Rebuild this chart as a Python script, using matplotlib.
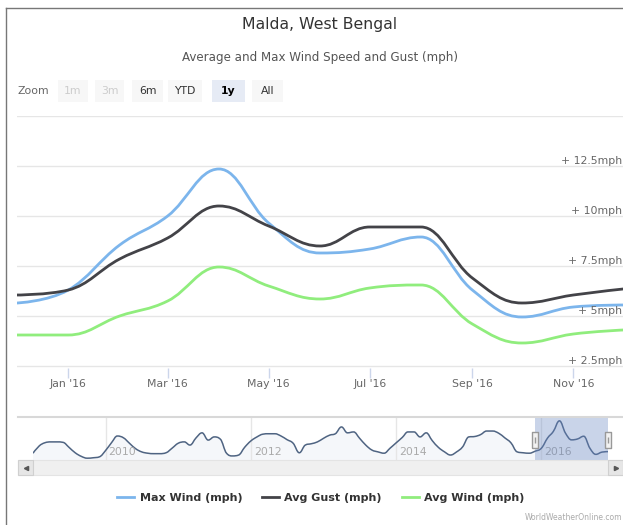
import numpy as np
import pandas as pd
import matplotlib
matplotlib.use("Agg")
import matplotlib.pyplot as plt
import matplotlib.dates as mdates
import matplotlib.transforms as mtransforms
from matplotlib.path import Path
from matplotlib.patches import PathPatch, Rectangle
from matplotlib.lines import Line2D

# monthly values for the 1y view (Dec 2015 - Dec 2016)
months = pd.date_range("2015-12-01", periods=13, freq="MS")
max_wind = [5.65, 6.3, 8.55, 10.0, 12.35, 9.65, 8.15, 8.35, 8.95, 6.3, 4.95, 5.45, 5.55]
avg_gust = [6.05, 6.3, 7.85, 8.9, 10.5, 9.5, 8.5, 9.45, 9.45, 6.9, 5.65, 6.05, 6.35]
avg_wind = [4.05, 4.05, 5.0, 5.75, 7.45, 6.5, 5.85, 6.4, 6.55, 4.6, 3.65, 4.1, 4.3]
series_names = ["Max Wind (mph)", "Avg Gust (mph)", "Avg Wind (mph)"]
series_colors = ["#7cb5ec", "#434348", "#90ed7d"]

# navigator history (Max Wind), Jan 2009 - Nov 2015
nav_hist = [5.2, 6.8, 7.5, 7.7, 7.7, 7.6, 6.5, 5.3, 4.5, 4.1, 4.2, 4.4,
            5.8, 7.6, 9.0, 8.6, 7.4, 6.2, 5.5, 5.2, 5.1, 5.1, 5.3, 6.3,
            7.4, 7.7, 7.0, 8.6, 9.7, 8.1, 8.8, 8.3, 5.2, 4.6, 4.8, 6.5,
            7.9, 8.8, 9.4, 9.5, 9.5, 9.0, 8.2, 7.4, 5.3, 7.0, 7.3, 7.7,
            8.5, 9.2, 9.5, 11.0, 9.7, 9.9, 8.5, 7.0, 5.9, 5.5, 5.2, 6.3,
            7.5, 8.7, 9.9, 9.9, 8.8, 9.7, 8.0, 6.5, 5.5, 4.8, 5.5, 6.6,
            8.8, 8.9, 9.3, 10.1, 10.1, 9.6, 8.6, 7.5, 5.5, 5.3, 5.2]
nav_months = pd.date_range("2009-01-01", periods=len(nav_hist) + len(max_wind), freq="MS")
nav_values = nav_hist + max_wind
nav_years = [2010, 2012, 2014, 2016]

y_ticks = [2.5, 5, 7.5, 10, 12.5, 15]
zoom_buttons = ["1m", "3m", "6m", "YTD", "1y", "All"]

W, H = 623, 525


def fx(x):
    return x / W


def fy(y):
    return 1 - y / H


def spline_path(xs, ys, smoothing=1.5):
    # highcharts style spline through the points
    xs = list(xs)
    ys = list(ys)
    n = len(xs)
    denom = smoothing + 1
    lc = [(xs[i], ys[i]) for i in range(n)]
    rc = [(xs[i], ys[i]) for i in range(n)]
    for i in range(1, n - 1):
        px, py = xs[i], ys[i]
        lx, ly = xs[i - 1], ys[i - 1]
        nx, ny = xs[i + 1], ys[i + 1]
        lcx = (smoothing * px + lx) / denom
        lcy = (smoothing * py + ly) / denom
        rcx = (smoothing * px + nx) / denom
        rcy = (smoothing * py + ny) / denom
        corr = (rcy - lcy) * (rcx - px) / (rcx - lcx) + py - rcy
        lcy += corr
        rcy += corr
        if lcy > ly and lcy > py:
            lcy = max(ly, py)
            rcy = 2 * py - lcy
        elif lcy < ly and lcy < py:
            lcy = min(ly, py)
            rcy = 2 * py - lcy
        if rcy > ny and rcy > py:
            rcy = max(ny, py)
            lcy = 2 * py - rcy
        elif rcy < ny and rcy < py:
            rcy = min(ny, py)
            lcy = 2 * py - rcy
        lc[i] = (lcx, lcy)
        rc[i] = (rcx, rcy)
    verts = [(xs[0], ys[0])]
    codes = [Path.MOVETO]
    for i in range(1, n):
        verts += [rc[i - 1], lc[i], (xs[i], ys[i])]
        codes += [Path.CURVE4] * 3
    return verts, codes


plt.rcParams["font.family"] = ["DejaVu Sans"]
fig = plt.figure(figsize=(W / 100, H / 100), dpi=100)

# container border
fig.add_artist(Line2D([fx(6), fx(6)], [fy(8), 0], color="#777777", lw=1))
fig.add_artist(Line2D([fx(6), 1], [fy(8), fy(8)], color="#777777", lw=1))

fig.text(fx(320), fy(25), "Malda, West Bengal", ha="center", va="center",
         fontsize=11.3, color="#333333")
fig.text(fx(320), fy(57), "Average and Max Wind Speed and Gust (mph)", ha="center",
         va="center", fontsize=8.6, color="#555555")

# range selector buttons
fig.text(fx(17), fy(91), "Zoom", ha="left", va="center", fontsize=7.8, color="#666666")
btn_x = [58, 95, 132, 168, 212, 252]
btn_w = [30, 29, 31, 34, 33, 31]
for lab, bx, bw in zip(zoom_buttons, btn_x, btn_w):
    sel = lab == "1y"
    dis = lab in ("1m", "3m")
    fig.add_artist(Rectangle((fx(bx), fy(102)), fx(bw), fy(80) - fy(102),
                             transform=fig.transFigure,
                             facecolor="#e6ebf5" if sel else "#f7f7f7", edgecolor="none"))
    fig.text(fx(bx + bw / 2), fy(91), lab, ha="center", va="center", fontsize=7.8,
             color="#cccccc" if dis else ("#000000" if sel else "#333333"),
             fontweight="bold" if sel else "normal")

# main plot
ax = fig.add_axes([fx(17), fy(368), fx(623) - fx(17), fy(116) - fy(368)])
ax.xaxis_date()
xnum = mdates.date2num(months)
ax.set_xlim(xnum[0], xnum[-1])
ax.set_ylim(2.4, 15)
for vals, col in zip([max_wind, avg_gust, avg_wind], series_colors):
    v, c = spline_path(xnum, vals)
    ax.add_patch(PathPatch(Path(v, c), fill=False, edgecolor=col, lw=2,
                           capstyle="round", joinstyle="round", zorder=3))
ax.set_yticks(y_ticks)
ax.yaxis.grid(True, color="#e6e6e6", lw=1)
ax.tick_params(axis="y", length=0, labelleft=False)
for s in ax.spines.values():
    s.set_visible(False)
ax.xaxis.set_major_locator(mdates.MonthLocator(bymonth=[1, 3, 5, 7, 9, 11]))
ax.xaxis.set_major_formatter(mdates.DateFormatter("%b '%y"))
ax.tick_params(axis="x", length=7, width=1, color="#ccd6eb", labelsize=7.8,
               labelcolor="#666666", pad=1)
lab_tr = mtransforms.offset_copy(ax.get_yaxis_transform(), fig=fig, x=-1, y=5, units="dots")
for t in y_ticks[:-1]:
    ax.text(1.0, t, "+ %gmph" % t, transform=lab_tr, ha="right", va="center",
            fontsize=7.8, color="#666666", clip_on=False)

# navigator
axn = fig.add_axes([fx(33), fy(460), fx(608) - fx(33), fy(417) - fy(460)])
axn.xaxis_date()
nx = mdates.date2num(nav_months)
axn.set_xlim(mdates.date2num(pd.Timestamp("2009-01-01")), nx[-1])
axn.set_ylim(3.7, 13.2)
axn.set_yticks([])
year_x = mdates.date2num([pd.Timestamp("%d-01-01" % y) for y in nav_years])
axn.set_xticks(year_x)
axn.tick_params(axis="x", length=0, labelbottom=False)
axn.xaxis.grid(True, color="#e6e6e6", lw=1)
for s in axn.spines.values():
    s.set_visible(False)
v, c = spline_path(nx, nav_values)
fill_v = v + [(nx[-1], 3.7), (nx[0], 3.7), v[0]]
fill_c = c + [Path.LINETO, Path.LINETO, Path.CLOSEPOLY]
axn.add_patch(PathPatch(Path(fill_v, fill_c), facecolor="#4572a7", alpha=0.05,
                        edgecolor="none"))
axn.add_patch(PathPatch(Path(v, c), fill=False, edgecolor="#4f6482", lw=1.1, zorder=3))
yr_tr = mtransforms.offset_copy(axn.get_xaxis_transform(), fig=fig, x=3, y=0, units="dots")
for yx, y in zip(year_x, nav_years):
    axn.text(yx, 0.19, str(y), transform=yr_tr, ha="left", va="center",
             fontsize=7.8, color="#aaaaaa")
bt = axn.get_xaxis_transform()
axn.add_patch(Rectangle((xnum[0], 0), xnum[-1] - xnum[0], 1, transform=bt,
                        facecolor=(102 / 255, 133 / 255, 194 / 255, 0.35),
                        edgecolor="none", zorder=4, clip_on=False))
hmark = [(-0.22, -0.5), (0.22, -0.5), (0.22, 0.5), (-0.22, 0.5), (-0.22, -0.5)]
for hx in (xnum[0], xnum[-1]):
    axn.plot([hx], [0.47], marker=hmark, ms=11, mfc="#f2f2f2", mec="#999999",
             mew=1, transform=bt, clip_on=False, zorder=6)
    axn.plot([hx], [0.47], marker="|", ms=5, mec="#999999", mew=1,
             transform=bt, clip_on=False, zorder=7)
fig.add_artist(Line2D([fx(18), 1], [fy(417), fy(417)], color="#d8d8d8", lw=1.5))

# scrollbar
fig.add_artist(Rectangle((fx(18), fy(475)), fx(605), fy(460) - fy(475),
                         transform=fig.transFigure, facecolor="#f0f0f0", edgecolor="#e4e4e4", lw=0.8))
for bx, mk in ((18, "<"), (608, ">")):
    fig.add_artist(Rectangle((fx(bx), fy(475)), fx(15), fy(460) - fy(475),
                             transform=fig.transFigure, facecolor="#e6e6e6", edgecolor="#d0d0d0", lw=0.8))
    fig.add_artist(Line2D([fx(bx + 7.5)], [fy(467.5)], marker=mk, ms=3, color="#555555",
                          linestyle="none"))
axn.add_patch(Rectangle((xnum[0], -15 / 43), xnum[-1] - xnum[0], 15 / 43, transform=bt,
                        facecolor="#c8c8c8", edgecolor="none", zorder=5, clip_on=False))
axn.text((xnum[0] + xnum[-1]) / 2, -7.5 / 43, "III", transform=bt, ha="center", va="center",
         fontsize=5, color="#555555", zorder=6)

# legend
handles = [Line2D([], [], color=c, lw=2) for c in series_colors]
leg = fig.legend(handles, series_names, loc="center", bbox_to_anchor=(fx(321), fy(498)),
                 ncol=3, frameon=False, prop={"weight": "bold", "size": 8},
                 handlelength=1.5, handletextpad=0.5, columnspacing=1.8)
for t in leg.get_texts():
    t.set_color("#333333")

fig.text(fx(622), fy(518), "WorldWeatherOnline.com", ha="right", va="center",
         fontsize=5.5, color="#aaaaaa")

fig.savefig("out.png", dpi=100)
